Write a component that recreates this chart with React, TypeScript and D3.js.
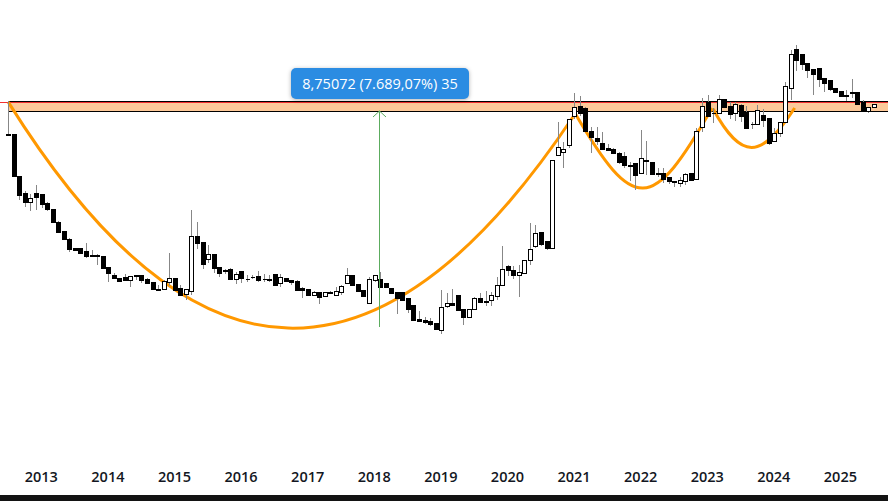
import React, { useEffect, useRef } from "react";
import * as d3 from "d3";

// monthly candles, first bar is Jul 2012
const firstYear = 2012;
const firstMonth = 6;

const opens = [
  5.55, 5.55, 2.39, 1.69, 1.42, 1.69, 1.66, 1.39, 1.23, 0.946, 0.79, 0.672, 0.56, 0.555, 0.524, 0.486, 0.484, 0.476, 0.383, 0.325,
  0.306, 0.312, 0.296, 0.324, 0.325, 0.3, 0.282, 0.244, 0.247, 0.284, 0.304, 0.25, 0.22, 0.237, 0.714, 0.627, 0.45, 0.496, 0.38, 0.358,
  0.364, 0.302, 0.35, 0.3, 0.312, 0.319, 0.302, 0.302, 0.331, 0.278, 0.304, 0.292, 0.286, 0.25, 0.245, 0.219, 0.229, 0.214, 0.23, 0.219,
  0.232, 0.278, 0.325, 0.271, 0.24, 0.185, 0.296, 0.3, 0.277, 0.25, 0.23, 0.23, 0.203, 0.177, 0.134, 0.131, 0.128, 0.123, 0.108, 0.175,
  0.184, 0.217, 0.163, 0.139, 0.164, 0.203, 0.192, 0.197, 0.214, 0.263, 0.388, 0.357, 0.327, 0.34, 0.437, 0.58, 0.77, 0.64, 0.555, 3.63,
  3.91, 4.44, 7.97, 9.8, 9.36, 5.97, 5.13, 4.62, 4.2, 4.09, 3.77, 3.58, 2.98, 3.09, 2.52, 3.29, 3.17, 2.53, 2.52, 2.34,
  2.17, 2.09, 2.14, 2.52, 2.24, 6.38, 10.7, 8.6, 8.57, 11.2, 9.8, 8.47, 10.0, 8.74, 6.81, 6.79, 8.13, 7.67, 4.87, 5.72,
  7.06, 14.0, 31.0, 28.0, 23.3, 20.6, 21.0, 17.3, 16.6, 14.1, 13.3, 12.2, 13.0, 13.0, 10.7, 8.92, 9.66,
];
const highs = [
  10.84, 5.55, 2.39, 1.76, 1.66, 2.0, 1.66, 1.42, 1.23, 0.965, 0.79, 0.68, 0.56, 0.56, 0.62, 0.538, 0.5, 0.476, 0.383, 0.338,
  0.306, 0.331, 0.319, 0.325, 0.325, 0.306, 0.282, 0.266, 0.294, 0.505, 0.304, 0.264, 0.243, 1.205, 0.946, 0.627, 0.595, 0.496, 0.38, 0.369,
  0.376, 0.345, 0.35, 0.325, 0.325, 0.352, 0.331, 0.325, 0.331, 0.331, 0.304, 0.292, 0.292, 0.257, 0.247, 0.237, 0.229, 0.23, 0.234, 0.257,
  0.268, 0.374, 0.325, 0.271, 0.24, 0.314, 0.325, 0.345, 0.277, 0.25, 0.23, 0.23, 0.203, 0.177, 0.157, 0.139, 0.136, 0.123, 0.24, 0.226,
  0.243, 0.217, 0.163, 0.163, 0.21, 0.224, 0.235, 0.232, 0.312, 0.583, 0.398, 0.39, 0.398, 0.437, 0.92, 0.891, 0.77, 0.64, 3.28, 7.06,
  4.78, 7.52, 12.7, 12.0, 9.62, 6.38, 6.38, 5.77, 4.53, 4.18, 3.91, 3.88, 3.17, 3.09, 6.05, 4.85, 3.17, 2.79, 2.82, 2.34,
  2.17, 2.36, 2.56, 2.52, 6.33, 11.5, 12.25, 9.42, 12.25, 11.2, 10.7, 10.7, 10.2, 9.8, 7.12, 10.0, 9.23, 7.67, 6.25, 7.06,
  15.9, 30.3, 33.5, 28.0, 23.3, 20.6, 21.0, 17.3, 16.6, 14.1, 13.3, 13.55, 16.9, 13.0, 11.08, 9.55, 10.14,
];
const lows = [
  5.47, 2.36, 1.475, 1.29, 1.19, 1.205, 1.26, 1.19, 0.93, 0.78, 0.665, 0.52, 0.524, 0.5, 0.46, 0.479, 0.398, 0.376, 0.284, 0.298,
  0.29, 0.291, 0.257, 0.294, 0.278, 0.277, 0.243, 0.242, 0.247, 0.261, 0.24, 0.217, 0.198, 0.219, 0.546, 0.366, 0.412, 0.34, 0.314, 0.331,
  0.302, 0.271, 0.278, 0.284, 0.298, 0.284, 0.284, 0.284, 0.268, 0.257, 0.288, 0.266, 0.237, 0.204, 0.214, 0.214, 0.181, 0.212, 0.224, 0.213,
  0.219, 0.278, 0.266, 0.235, 0.213, 0.185, 0.284, 0.254, 0.249, 0.226, 0.148, 0.198, 0.15, 0.131, 0.126, 0.121, 0.115, 0.109, 0.098, 0.166,
  0.177, 0.161, 0.1185, 0.137, 0.16, 0.184, 0.175, 0.173, 0.196, 0.263, 0.319, 0.3, 0.21, 0.34, 0.398, 0.555, 0.583, 0.538, 0.555, 3.63,
  2.82, 4.18, 7.52, 8.02, 5.97, 3.77, 4.47, 4.09, 3.98, 3.77, 3.05, 2.8, 2.14, 1.79, 2.49, 2.44, 2.44, 2.36, 2.09, 2.03,
  1.93, 1.93, 2.0, 2.21, 2.24, 5.84, 8.02, 7.0, 8.57, 9.66, 7.55, 7.2, 7.1, 6.3, 6.13, 6.79, 6.47, 4.47, 4.87, 5.28,
  7.06, 11.08, 19.8, 20.2, 17.2, 12.25, 14.5, 13.1, 13.2, 13.0, 12.1, 10.85, 11.5, 10.3, 8.8, 8.57, 9.42,
];
const closes = [
  5.47, 2.39, 1.64, 1.42, 1.525, 1.55, 1.36, 1.23, 0.95, 0.78, 0.665, 0.553, 0.538, 0.51, 0.48, 0.479, 0.478, 0.376, 0.34, 0.306,
  0.29, 0.296, 0.317, 0.321, 0.296, 0.278, 0.243, 0.242, 0.286, 0.304, 0.24, 0.217, 0.243, 0.714, 0.619, 0.406, 0.493, 0.376, 0.34, 0.355,
  0.302, 0.33, 0.306, 0.297, 0.309, 0.294, 0.298, 0.296, 0.268, 0.31, 0.288, 0.282, 0.24, 0.241, 0.217, 0.229, 0.21, 0.229, 0.224, 0.234,
  0.261, 0.323, 0.266, 0.235, 0.213, 0.298, 0.323, 0.254, 0.254, 0.226, 0.204, 0.198, 0.164, 0.131, 0.128, 0.126, 0.121, 0.109, 0.169, 0.184,
  0.178, 0.161, 0.139, 0.163, 0.203, 0.188, 0.19, 0.216, 0.264, 0.364, 0.361, 0.327, 0.343, 0.437, 0.546, 0.765, 0.61, 0.555, 3.28, 4.32,
  4.09, 7.52, 9.66, 8.57, 5.97, 5.28, 4.87, 4.14, 4.06, 3.77, 3.17, 2.97, 2.95, 2.42, 3.41, 3.26, 2.49, 2.5, 2.25, 2.14,
  2.12, 2.2, 2.48, 2.21, 5.9, 9.75, 8.02, 8.5, 11.2, 9.66, 8.34, 10.14, 8.02, 6.3, 6.76, 8.99, 7.4, 4.68, 5.72, 7.06,
  14.6, 27.9, 25.0, 22.9, 20.2, 18.7, 17.0, 15.7, 13.8, 13.0, 12.1, 12.1, 12.7, 10.3, 8.8, 9.55, 10.14,
];

const yearLabels = [2013, 2014, 2015, 2016, 2017, 2018, 2019, 2020, 2021, 2022, 2023, 2024, 2025];

// resistance band and the measured move
const bandTop = 10.85;
const bandBottom = 8.8;
const redLevel = 10.6;
const moveFrom = 0.1138;
const moveTo = 8.8645;
const moveMonth = 66.85;
const moveText = "8,75072 (7.689,07%) 35";

// cup and handle arcs as bezier points, [month index, price]
const bigCup: [number, number][] = [[0, 10.6], [33.3, 0.02706], [67.2, 0.02425], [101.75, 7.85]];
const midCup: [number, number][] = [[102.1, 8.51], [112.7, 1.113], [116, 1.113], [126.8, 9.41]];
const smallCup: [number, number][] = [[127, 9.23], [132.1, 3.27], [135.6, 3.27], [141.7, 9.41]];

function drawChart(node: SVGSVGElement) {
  const width = 888;
  const height = 501;
  const svg = d3.select(node);
  svg.selectAll("*").remove();

  const x = d3.scaleLinear().domain([0, opens.length - 1]).range([8.3, 874]);
  // log price scale, calibrated on the 7.689% move
  const y = d3.scaleLog().domain([moveTo, moveFrom]).range([111, 327]);
  const snapY = (p: number) => Math.round(y(p)) + 0.5;

  const bandX = Math.round(x(0)) + 0.5;

  // band
  svg.append("rect")
    .attr("x", bandX)
    .attr("y", snapY(bandTop))
    .attr("width", width - bandX)
    .attr("height", snapY(bandBottom) - snapY(bandTop))
    .attr("fill", "#fdc999");
  svg.append("line")
    .attr("x1", 0).attr("x2", width)
    .attr("y1", snapY(redLevel)).attr("y2", snapY(redLevel))
    .attr("stroke", "#f23030").attr("stroke-width", 1);
  svg.append("path")
    .attr("d", `M${width},${snapY(bandTop)}H${bandX}V${snapY(bandBottom)}H${width}`)
    .attr("fill", "none").attr("stroke", "#000").attr("stroke-width", 1);

  // arcs
  [bigCup, midCup, smallCup].forEach((pts) => {
    const p = d3.path();
    p.moveTo(x(pts[0][0]), y(pts[0][1]));
    p.bezierCurveTo(
      x(pts[1][0]), y(pts[1][1]),
      x(pts[2][0]), y(pts[2][1]),
      x(pts[3][0]), y(pts[3][1])
    );
    svg.append("path")
      .attr("d", p.toString())
      .attr("fill", "none")
      .attr("stroke", "#ff9800")
      .attr("stroke-width", 3);
  });

  // candles
  const candles = svg.append("g").attr("shape-rendering", "crispEdges");
  opens.forEach((open, i) => {
    const cx = Math.round(x(i)) + 0.5;
    candles.append("line")
      .attr("x1", cx).attr("x2", cx)
      .attr("y1", Math.round(y(highs[i]))).attr("y2", Math.round(y(lows[i])))
      .attr("stroke", "#878787").attr("stroke-width", 1);
  });
  opens.forEach((open, i) => {
    const cx = Math.round(x(i)) + 0.5;
    const close = closes[i];
    const top = snapY(Math.max(open, close));
    const bottom = snapY(Math.min(open, close));
    candles.append("path")
      .attr("d", `M${cx - 2},${top}h4V${bottom}h-4Z`)
      .attr("fill", close >= open ? "#fff" : "#000")
      .attr("stroke", "#000")
      .attr("stroke-width", 1);
  });

  // measure arrow
  const arrowX = Math.round(x(moveMonth)) + 0.5;
  const arrowTop = y(moveTo);
  svg.append("line")
    .attr("x1", arrowX).attr("x2", arrowX)
    .attr("y1", y(moveFrom)).attr("y2", arrowTop)
    .attr("stroke", "#5cac5f").attr("stroke-width", 1);
  svg.append("path")
    .attr("d", `M${arrowX - 6.5},${arrowTop + 6}L${arrowX},${arrowTop}L${arrowX + 6.5},${arrowTop + 6}`)
    .attr("fill", "none").attr("stroke", "#5cac5f").attr("stroke-width", 1);

  // label
  svg.append("rect")
    .attr("x", 291).attr("y", 68)
    .attr("width", 178).attr("height", 31)
    .attr("rx", 5)
    .attr("fill", "#2b8ce2")
    .style("filter", "drop-shadow(0px 1px 2px rgba(0,0,0,0.3))");
  svg.append("text")
    .attr("x", 380).attr("y", 88.5)
    .attr("text-anchor", "middle")
    .attr("fill", "#fff")
    .style("font-family", "Open Sans")
    .style("font-weight", "500")
    .style("font-size", "14.5px")
    .text(moveText);

  // time axis
  const axis = d3.axisBottom(x)
    .tickValues(yearLabels.map((yr) => (yr - firstYear) * 12 - firstMonth))
    .tickSize(0)
    .tickFormat((d) => String(firstYear + (+d + firstMonth) / 12));
  const axisG = svg.append("g").attr("transform", "translate(-0.8,469)").call(axis);
  axisG.select(".domain").remove();
  axisG.selectAll("text")
    .attr("fill", "#131722")
    .style("font-family", "Open Sans")
    .style("font-weight", "600")
    .style("font-size", "14.5px");

  // bottom bar
  svg.append("rect")
    .attr("x", 0).attr("y", 495)
    .attr("width", width).attr("height", height - 495)
    .attr("fill", "#131313");
}

const App = () => {
  const ref = useRef<SVGSVGElement>(null);
  useEffect(() => {
    if (ref.current) drawChart(ref.current);
  }, []);
  return (
    <svg
      ref={ref}
      width={888}
      height={501}
      style={{ position: "absolute", left: 0, top: 0, background: "#fff" }}
    />
  );
};

export default App;
